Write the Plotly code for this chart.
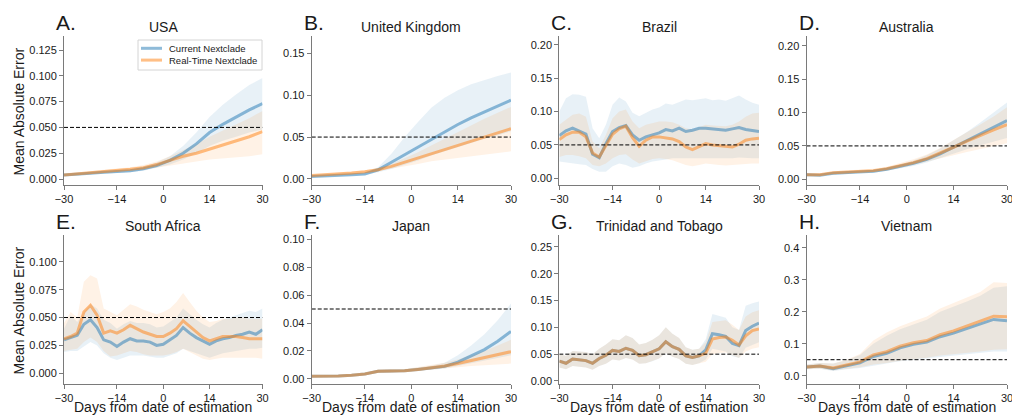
import plotly.graph_objects as go

# ---------------------------------------------------------------- data
DAYS_4 = [-30, -26, -22, -18, -14, -10, -6, -2, 2, 6, 10, 14, 18, 22, 26, 30]
DAYS_2 = [-30, -28, -26, -24, -22, -20, -18, -16, -14, -12, -10, -8, -6, -4, -2, 0,
          2, 4, 6, 8, 10, 12, 14, 16, 18, 20, 22, 24, 26, 28, 30]

X_TICKS = [-30, -14, 0, 14, 30]
X_TICK_TEXT = ["\u221230", "\u221214", "0", "14", "30"]
THRESHOLD = 0.05
SERIES_NAMES = ["Current Nextclade", "Real-Time Nextclade"]

# USA
USA_CUR = [0.004, 0.0045, 0.0055, 0.0065, 0.007, 0.008, 0.010, 0.013, 0.018, 0.025, 0.034, 0.045, 0.053, 0.060, 0.067, 0.073]
USA_CUR_LO = [0.003, 0.0035, 0.0045, 0.0055, 0.006, 0.0065, 0.008, 0.011, 0.014, 0.019, 0.025, 0.032, 0.037, 0.041, 0.045, 0.048]
USA_CUR_HI = [0.005, 0.0055, 0.0065, 0.0075, 0.0085, 0.0095, 0.012, 0.016, 0.022, 0.032, 0.045, 0.060, 0.072, 0.082, 0.091, 0.098]
USA_RT = [0.004, 0.005, 0.006, 0.0075, 0.0085, 0.0095, 0.011, 0.014, 0.018, 0.022, 0.025, 0.029, 0.033, 0.037, 0.041, 0.046]
USA_RT_LO = [0.003, 0.004, 0.005, 0.006, 0.007, 0.008, 0.009, 0.011, 0.013, 0.015, 0.017, 0.019, 0.020, 0.021, 0.022, 0.024]
USA_RT_HI = [0.005, 0.006, 0.0075, 0.009, 0.010, 0.0115, 0.0135, 0.017, 0.022, 0.028, 0.034, 0.041, 0.047, 0.053, 0.059, 0.066]

# United Kingdom
UK_CUR = [0.003, 0.0035, 0.004, 0.005, 0.006, 0.011, 0.020, 0.029, 0.038, 0.048, 0.057, 0.065, 0.073, 0.080, 0.087, 0.094]
UK_CUR_LO = [0.002, 0.0025, 0.003, 0.004, 0.005, 0.008, 0.012, 0.017, 0.022, 0.028, 0.033, 0.038, 0.043, 0.048, 0.052, 0.057]
UK_CUR_HI = [0.004, 0.0045, 0.005, 0.006, 0.0075, 0.014, 0.030, 0.050, 0.068, 0.085, 0.097, 0.106, 0.113, 0.118, 0.123, 0.127]
UK_RT = [0.004, 0.0048, 0.0058, 0.007, 0.0085, 0.011, 0.015, 0.020, 0.025, 0.030, 0.035, 0.040, 0.045, 0.050, 0.055, 0.060]
UK_RT_LO = [0.003, 0.0038, 0.0046, 0.0055, 0.0068, 0.009, 0.012, 0.015, 0.018, 0.021, 0.023, 0.025, 0.027, 0.029, 0.031, 0.033]
UK_RT_HI = [0.005, 0.006, 0.007, 0.0085, 0.0105, 0.013, 0.018, 0.025, 0.032, 0.040, 0.048, 0.056, 0.064, 0.072, 0.079, 0.086]

# Brazil
BR_CUR = [0.064, 0.071, 0.075, 0.071, 0.066, 0.036, 0.031, 0.052, 0.070, 0.076, 0.079, 0.065, 0.057, 0.062, 0.065, 0.068,
          0.073, 0.071, 0.075, 0.070, 0.072, 0.075, 0.075, 0.074, 0.073, 0.072, 0.074, 0.076, 0.073, 0.072, 0.070]
BR_CUR_LO = [0.025, 0.023, 0.022, 0.021, 0.020, 0.014, 0.010, 0.010, 0.018, 0.022, 0.020, 0.016, 0.018, 0.022, 0.025, 0.027,
             0.028, 0.030, 0.030, 0.031, 0.031, 0.030, 0.031, 0.031, 0.031, 0.030, 0.030, 0.031, 0.031, 0.030, 0.030]
BR_CUR_HI = [0.100, 0.120, 0.126, 0.125, 0.122, 0.075, 0.060, 0.080, 0.110, 0.121, 0.115, 0.098, 0.093, 0.098, 0.103, 0.106,
             0.112, 0.110, 0.114, 0.118, 0.117, 0.118, 0.120, 0.117, 0.118, 0.116, 0.120, 0.124, 0.118, 0.113, 0.110]
BR_RT = [0.058, 0.065, 0.069, 0.069, 0.062, 0.038, 0.032, 0.050, 0.066, 0.074, 0.078, 0.061, 0.048, 0.057, 0.062, 0.062,
         0.060, 0.059, 0.055, 0.047, 0.043, 0.047, 0.052, 0.050, 0.049, 0.047, 0.047, 0.051, 0.057, 0.059, 0.060]
BR_RT_LO = [0.032, 0.035, 0.035, 0.033, 0.030, 0.020, 0.018, 0.022, 0.030, 0.035, 0.036, 0.028, 0.022, 0.026, 0.029, 0.030,
            0.029, 0.027, 0.024, 0.020, 0.018, 0.020, 0.022, 0.021, 0.020, 0.019, 0.019, 0.020, 0.021, 0.022, 0.022]
BR_RT_HI = [0.080, 0.088, 0.095, 0.097, 0.092, 0.055, 0.045, 0.065, 0.090, 0.100, 0.103, 0.085, 0.075, 0.080, 0.083, 0.085,
            0.085, 0.084, 0.080, 0.075, 0.073, 0.076, 0.080, 0.079, 0.079, 0.078, 0.080, 0.085, 0.092, 0.097, 0.098]

# Australia
AU_CUR = [0.007, 0.006, 0.009, 0.010, 0.012, 0.012, 0.015, 0.019, 0.024, 0.030, 0.038, 0.048, 0.058, 0.068, 0.078, 0.088]
AU_CUR_LO = [0.005, 0.005, 0.007, 0.008, 0.010, 0.010, 0.013, 0.016, 0.020, 0.025, 0.031, 0.038, 0.045, 0.051, 0.057, 0.062]
AU_CUR_HI = [0.009, 0.008, 0.011, 0.012, 0.014, 0.014, 0.018, 0.022, 0.028, 0.036, 0.046, 0.058, 0.071, 0.085, 0.100, 0.115]
AU_RT = [0.007, 0.007, 0.010, 0.011, 0.013, 0.013, 0.016, 0.020, 0.025, 0.031, 0.039, 0.048, 0.057, 0.066, 0.074, 0.082]
AU_RT_LO = [0.005, 0.005, 0.008, 0.009, 0.010, 0.011, 0.013, 0.017, 0.021, 0.026, 0.031, 0.036, 0.041, 0.046, 0.050, 0.054]
AU_RT_HI = [0.009, 0.009, 0.012, 0.013, 0.015, 0.016, 0.019, 0.024, 0.030, 0.037, 0.047, 0.059, 0.070, 0.082, 0.094, 0.108]

# South Africa
ZA_CUR = [0.030, 0.032, 0.034, 0.044, 0.048, 0.041, 0.030, 0.028, 0.024, 0.028, 0.031, 0.029, 0.029, 0.028, 0.025, 0.026,
          0.030, 0.034, 0.041, 0.036, 0.032, 0.029, 0.026, 0.029, 0.031, 0.032, 0.034, 0.035, 0.037, 0.035, 0.039]
ZA_CUR_LO = [0.019, 0.020, 0.020, 0.024, 0.028, 0.025, 0.018, 0.014, 0.012, 0.014, 0.016, 0.016, 0.016, 0.015, 0.014, 0.014,
             0.016, 0.018, 0.022, 0.020, 0.018, 0.016, 0.014, 0.016, 0.018, 0.019, 0.020, 0.021, 0.022, 0.022, 0.023]
ZA_CUR_HI = [0.040, 0.052, 0.046, 0.055, 0.062, 0.058, 0.048, 0.045, 0.040, 0.044, 0.047, 0.045, 0.045, 0.044, 0.041, 0.042,
             0.046, 0.050, 0.058, 0.053, 0.048, 0.044, 0.041, 0.045, 0.048, 0.050, 0.052, 0.054, 0.056, 0.055, 0.058]
ZA_RT = [0.031, 0.033, 0.036, 0.055, 0.061, 0.052, 0.036, 0.038, 0.036, 0.039, 0.043, 0.040, 0.037, 0.035, 0.033, 0.033,
         0.036, 0.040, 0.047, 0.042, 0.037, 0.032, 0.029, 0.031, 0.033, 0.033, 0.033, 0.032, 0.031, 0.031, 0.031]
ZA_RT_LO = [0.020, 0.021, 0.022, 0.028, 0.032, 0.028, 0.020, 0.015, 0.016, 0.018, 0.020, 0.019, 0.017, 0.016, 0.016, 0.016,
            0.017, 0.019, 0.022, 0.019, 0.016, 0.013, 0.012, 0.013, 0.014, 0.014, 0.014, 0.014, 0.014, 0.014, 0.013]
ZA_RT_HI = [0.045, 0.055, 0.050, 0.082, 0.088, 0.085, 0.058, 0.055, 0.052, 0.057, 0.062, 0.060, 0.057, 0.055, 0.053, 0.055,
            0.058, 0.064, 0.072, 0.064, 0.056, 0.050, 0.046, 0.047, 0.049, 0.049, 0.050, 0.050, 0.049, 0.049, 0.049]

# Japan
JP_CUR = [0.002, 0.002, 0.0022, 0.0026, 0.0035, 0.0055, 0.0055, 0.0058, 0.0068, 0.0078, 0.009, 0.012, 0.0165, 0.021, 0.027, 0.034]
JP_CUR_LO = [0.0015, 0.0015, 0.0017, 0.002, 0.0028, 0.0045, 0.0046, 0.005, 0.0058, 0.0066, 0.0075, 0.009, 0.011, 0.013, 0.015, 0.017]
JP_CUR_HI = [0.0025, 0.0025, 0.0028, 0.0032, 0.0042, 0.0065, 0.0066, 0.007, 0.0082, 0.0095, 0.0115, 0.017, 0.024, 0.032, 0.042, 0.054]
JP_RT = [0.002, 0.002, 0.0022, 0.0026, 0.0035, 0.0055, 0.0055, 0.0058, 0.0068, 0.008, 0.0092, 0.011, 0.013, 0.015, 0.017, 0.0195]
JP_RT_LO = [0.0015, 0.0015, 0.0017, 0.002, 0.0028, 0.0045, 0.0046, 0.005, 0.0058, 0.0066, 0.0074, 0.0085, 0.0092, 0.0098, 0.0102, 0.011]
JP_RT_HI = [0.0025, 0.0025, 0.0028, 0.0032, 0.0043, 0.0067, 0.0068, 0.0072, 0.0085, 0.0098, 0.0115, 0.014, 0.017, 0.020, 0.024, 0.028]

# Trinidad and Tobago
TT_CUR = [0.037, 0.033, 0.041, 0.039, 0.038, 0.033, 0.042, 0.048, 0.057, 0.055, 0.061, 0.057, 0.047, 0.049, 0.054, 0.060,
          0.073, 0.064, 0.059, 0.047, 0.044, 0.047, 0.058, 0.088, 0.086, 0.083, 0.070, 0.066, 0.094, 0.102, 0.108]
TT_CUR_LO = [0.025, 0.022, 0.028, 0.026, 0.025, 0.021, 0.028, 0.032, 0.040, 0.038, 0.043, 0.040, 0.032, 0.033, 0.037, 0.042,
             0.052, 0.045, 0.041, 0.032, 0.030, 0.033, 0.040, 0.060, 0.058, 0.055, 0.046, 0.043, 0.062, 0.067, 0.072]
TT_CUR_HI = [0.050, 0.047, 0.056, 0.055, 0.054, 0.050, 0.060, 0.068, 0.078, 0.076, 0.085, 0.080, 0.068, 0.071, 0.077, 0.085,
             0.100, 0.088, 0.080, 0.063, 0.058, 0.060, 0.078, 0.125, 0.122, 0.118, 0.100, 0.095, 0.140, 0.145, 0.148]
TT_RT = [0.037, 0.033, 0.041, 0.039, 0.038, 0.033, 0.042, 0.048, 0.057, 0.055, 0.061, 0.057, 0.047, 0.049, 0.054, 0.060,
         0.073, 0.064, 0.059, 0.047, 0.044, 0.047, 0.052, 0.078, 0.081, 0.082, 0.076, 0.067, 0.084, 0.094, 0.097]
TT_RT_LO = [0.025, 0.022, 0.028, 0.026, 0.025, 0.021, 0.028, 0.032, 0.040, 0.038, 0.043, 0.040, 0.032, 0.033, 0.037, 0.042,
            0.052, 0.045, 0.041, 0.032, 0.030, 0.033, 0.036, 0.050, 0.052, 0.053, 0.048, 0.043, 0.055, 0.060, 0.063]
TT_RT_HI = [0.050, 0.047, 0.056, 0.055, 0.054, 0.050, 0.060, 0.068, 0.078, 0.076, 0.085, 0.080, 0.068, 0.071, 0.077, 0.085,
            0.100, 0.088, 0.080, 0.063, 0.058, 0.060, 0.072, 0.110, 0.112, 0.113, 0.105, 0.095, 0.120, 0.128, 0.132]

# Vietnam
VN_CUR = [0.027, 0.030, 0.022, 0.032, 0.040, 0.060, 0.070, 0.087, 0.098, 0.105, 0.122, 0.133, 0.148, 0.163, 0.176, 0.172]
VN_CUR_LO = [0.020, 0.022, 0.015, 0.020, 0.024, 0.032, 0.038, 0.045, 0.050, 0.054, 0.060, 0.064, 0.068, 0.072, 0.076, 0.076]
VN_CUR_HI = [0.035, 0.040, 0.038, 0.048, 0.065, 0.100, 0.125, 0.145, 0.160, 0.175, 0.200, 0.215, 0.232, 0.250, 0.275, 0.280]
VN_RT = [0.027, 0.030, 0.024, 0.034, 0.043, 0.065, 0.075, 0.092, 0.103, 0.110, 0.128, 0.140, 0.155, 0.170, 0.186, 0.184]
VN_RT_LO = [0.020, 0.022, 0.016, 0.022, 0.026, 0.035, 0.040, 0.047, 0.052, 0.056, 0.063, 0.068, 0.072, 0.076, 0.081, 0.083]
VN_RT_HI = [0.035, 0.040, 0.038, 0.050, 0.068, 0.110, 0.135, 0.155, 0.170, 0.185, 0.210, 0.228, 0.245, 0.262, 0.292, 0.290]

# ---------------------------------------------------------------- layout
W, H = 1012, 416
FONT = "Liberation Sans, Arial, Helvetica, sans-serif"
TEXT = "#1a1a1a"
AXIS = "#7a7a7a"
BLUE_LINE = "rgba(31,119,180,0.5)"
ORANGE_LINE = "rgba(255,127,14,0.5)"
BLUE_BAND = "rgba(31,119,180,0.1)"
ORANGE_BAND = "rgba(255,127,14,0.1)"

COLS_PX = [(64, 262.5), (311.7, 511), (559.3, 759), (806.5, 1007)]
ROWS_PX = [(36, 185), (235, 384)]


def px_x(px):
    return px / W


def px_y(py):
    return 1 - py / H


panels = [
    dict(letter="A.", title="USA", days=DAYS_4, series=(USA_CUR, USA_CUR_LO, USA_CUR_HI, USA_RT, USA_RT_LO, USA_RT_HI),
         yr=[-0.0058, 0.1386], yt=[0, 0.025, 0.05, 0.075, 0.1, 0.125], fmt=".3f"),
    dict(letter="B.", title="United Kingdom", days=DAYS_4, series=(UK_CUR, UK_CUR_LO, UK_CUR_HI, UK_RT, UK_RT_LO, UK_RT_HI),
         yr=[-0.0072, 0.1706], yt=[0, 0.05, 0.1, 0.15], fmt=".2f"),
    dict(letter="C.", title="Brazil", days=DAYS_2, series=(BR_CUR, BR_CUR_LO, BR_CUR_HI, BR_RT, BR_RT_LO, BR_RT_HI),
         yr=[-0.010, 0.213], yt=[0, 0.05, 0.1, 0.15, 0.2], fmt=".2f"),
    dict(letter="D.", title="Australia", days=DAYS_4, series=(AU_CUR, AU_CUR_LO, AU_CUR_HI, AU_RT, AU_RT_LO, AU_RT_HI),
         yr=[-0.0085, 0.2145], yt=[0, 0.05, 0.1, 0.15, 0.2], fmt=".2f"),
    dict(letter="E.", title="South Africa", days=DAYS_2, series=(ZA_CUR, ZA_CUR_LO, ZA_CUR_HI, ZA_RT, ZA_RT_LO, ZA_RT_HI),
         yr=[-0.0096, 0.124], yt=[0, 0.025, 0.05, 0.075, 0.1], fmt=".3f"),
    dict(letter="F.", title="Japan", days=DAYS_4, series=(JP_CUR, JP_CUR_LO, JP_CUR_HI, JP_RT, JP_RT_LO, JP_RT_HI),
         yr=[-0.0036, 0.1029], yt=[0, 0.02, 0.04, 0.06, 0.08, 0.1], fmt=".2f"),
    dict(letter="G.", title="Trinidad and Tobago", days=DAYS_2, series=(TT_CUR, TT_CUR_LO, TT_CUR_HI, TT_RT, TT_RT_LO, TT_RT_HI),
         yr=[-0.0056, 0.272], yt=[0, 0.05, 0.1, 0.15, 0.2, 0.25], fmt=".2f"),
    dict(letter="H.", title="Vietnam", days=DAYS_4, series=(VN_CUR, VN_CUR_LO, VN_CUR_HI, VN_RT, VN_RT_LO, VN_RT_HI),
         yr=[-0.026, 0.44], yt=[0, 0.1, 0.2, 0.3, 0.4], fmt=".1f"),
]

fig = go.Figure()
layout = dict(
    width=W, height=H,
    margin=dict(l=0, r=0, t=0, b=0),
    paper_bgcolor="white", plot_bgcolor="white",
    showlegend=False,
    font=dict(family=FONT, color=TEXT),
)
annotations = []
shapes = []


def band(days, lo, hi, color, xa, ya):
    return go.Scatter(x=list(days) + list(days)[::-1], y=list(hi) + list(lo)[::-1],
                      fill="toself", fillcolor=color, line=dict(width=0),
                      mode="lines", hoverinfo="skip", xaxis=xa, yaxis=ya)


for i, p in enumerate(panels):
    r, c = divmod(i, 4)
    n = "" if i == 0 else str(i + 1)
    xa, ya = "x" + n, "y" + n
    x0, x1 = COLS_PX[c]
    y0, y1 = ROWS_PX[r]
    days = p["days"]
    cur, cur_lo, cur_hi, rt, rt_lo, rt_hi = p["series"]

    fig.add_trace(band(days, cur_lo, cur_hi, BLUE_BAND, xa, ya))
    fig.add_trace(band(days, rt_lo, rt_hi, ORANGE_BAND, xa, ya))
    fig.add_trace(go.Scatter(x=days, y=cur, mode="lines", name=SERIES_NAMES[0],
                             line=dict(color=BLUE_LINE, width=3), xaxis=xa, yaxis=ya))
    fig.add_trace(go.Scatter(x=days, y=rt, mode="lines", name=SERIES_NAMES[1],
                             line=dict(color=ORANGE_LINE, width=3), xaxis=xa, yaxis=ya))
    fig.add_trace(go.Scatter(x=[X_TICKS[0], X_TICKS[-1]], y=[THRESHOLD, THRESHOLD], mode="lines",
                             line=dict(color="black", width=1, dash="4px,2px"),
                             hoverinfo="skip", xaxis=xa, yaxis=ya))

    layout["xaxis" + n] = dict(
        domain=[px_x(x0), px_x(x1)], anchor=ya, range=[-30, 30],
        tickmode="array", tickvals=X_TICKS, ticktext=X_TICK_TEXT,
        showline=True, linecolor=AXIS, linewidth=1, ticks="outside", ticklen=4,
        tickcolor=AXIS, showgrid=False, zeroline=False, automargin=False,
        ticklabeloverflow="allow",
        tickfont=dict(size=11, color=TEXT, family=FONT),
    )
    layout["yaxis" + n] = dict(
        domain=[px_y(y1), px_y(y0)], anchor=xa, range=p["yr"],
        tickmode="array", tickvals=p["yt"], tickformat=p["fmt"],
        showline=True, linecolor=AXIS, linewidth=1, ticks="outside", ticklen=4,
        tickcolor=AXIS, showgrid=False, zeroline=False, automargin=False,
        ticklabeloverflow="allow",
        tickfont=dict(size=11, color=TEXT, family=FONT),
    )

    cx = (x0 + x1) / 2
    annotations.append(dict(text=p["title"], x=px_x(cx), y=px_y(y0 - 9), xref="paper", yref="paper",
                            xanchor="center", yanchor="middle", showarrow=False,
                            font=dict(size=14, color=TEXT, family=FONT)))
    annotations.append(dict(text=p["letter"], x=px_x(x0 - 10), y=px_y(y0 - 14), xref="paper", yref="paper",
                            xanchor="left", yanchor="middle", showarrow=False,
                            font=dict(size=21, color=TEXT, family=FONT)))
    if r == 1:
        annotations.append(dict(text="Days from date of estimation", x=px_x(cx), y=px_y(415.5),
                                xref="paper", yref="paper", xanchor="center", yanchor="bottom",
                                showarrow=False, borderpad=0,
                                font=dict(size=14, color=TEXT, family=FONT)))

for (y0, y1) in ROWS_PX:
    annotations.append(dict(text="Mean Absolute Error", x=px_x(18), y=px_y((y0 + y1) / 2 + 1),
                            xref="paper", yref="paper", xanchor="center", yanchor="middle",
                            textangle=-90, showarrow=False,
                            font=dict(size=14, color=TEXT, family=FONT)))

# legend box inside the USA panel
shapes.append(dict(type="rect", xref="paper", yref="paper",
                   x0=px_x(138), x1=px_x(262), y0=px_y(70), y1=px_y(40),
                   line=dict(color="#d4d4d4", width=1), fillcolor="rgba(255,255,255,0.85)", layer="above"))
for k, (name, col) in enumerate(zip(SERIES_NAMES, [BLUE_LINE, ORANGE_LINE])):
    yy = 48.3 + 11.8 * k
    shapes.append(dict(type="line", xref="paper", yref="paper",
                       x0=px_x(141), x1=px_x(162), y0=px_y(yy), y1=px_y(yy),
                       line=dict(color=col, width=3), layer="above"))
    annotations.append(dict(text=name, x=px_x(167), y=px_y(yy), xref="paper", yref="paper",
                            xanchor="left", yanchor="middle", showarrow=False,
                            font=dict(size=9.5, color=TEXT, family=FONT)))

layout["annotations"] = annotations
layout["shapes"] = shapes
fig.update_layout(**layout)
fig.write_html("out.html")
